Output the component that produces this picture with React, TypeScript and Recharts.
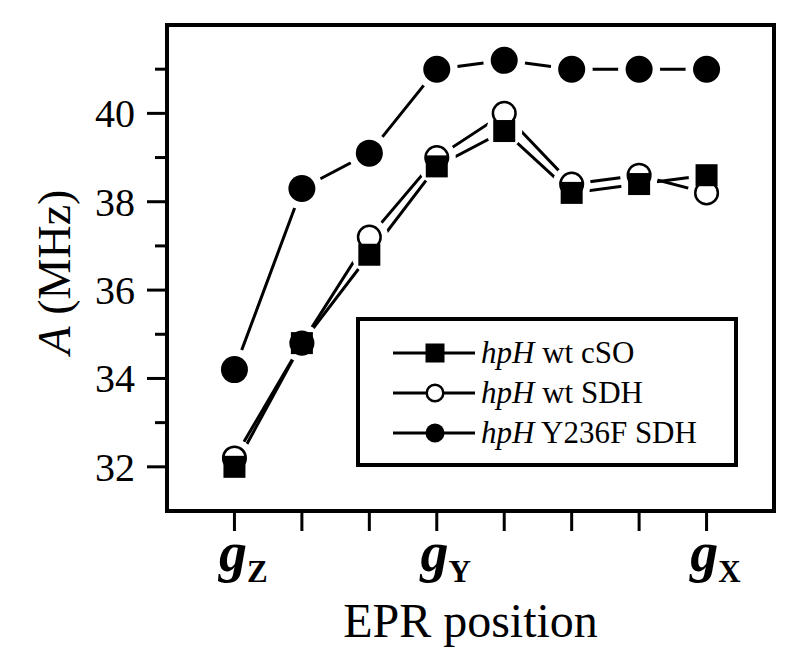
import React from 'react';
import { LineChart, Line, XAxis, YAxis, ReferenceArea, Legend } from 'recharts';

// EPR positions along the field sweep (gZ ... gX)
const positions = [1, 2, 3, 4, 5, 6, 7, 8];
const positionLabels = ['Z', '', '', 'Y', '', '', '', 'X'];

// A (MHz) per series
const wtCSO = [32.0, 34.8, 36.8, 38.8, 39.6, 38.2, 38.4, 38.6];
const wtSDH = [32.2, 34.8, 37.2, 39.0, 40.0, 38.4, 38.6, 38.2];
const y236fSDH = [34.2, 38.3, 39.1, 41.0, 41.2, 41.0, 41.0, 41.0];

const yTicks = [32, 33, 34, 35, 36, 37, 38, 39, 40, 41];
const legendNames = ['wt cSO', 'wt SDH', 'Y236F SDH'];

const FONT = '"Liberation Serif", "Times New Roman", serif';

const data = positions.map((p, i) => ({
  pos: p,
  cso: wtCSO[i],
  sdh: wtSDH[i],
  y236f: y236fSDH[i],
}));

const Marker = ({ kind, cx, cy, size }: { kind: string; cx: number; cy: number; size: number }) => {
  if (kind === 'square') {
    return <rect x={cx - size / 2} y={cy - size / 2} width={size} height={size} fill="#000" />;
  }
  if (kind === 'open') {
    return <circle cx={cx} cy={cy} r={size / 2 - 1.2} fill="#fff" stroke="#000" strokeWidth={2.5} />;
  }
  return <circle cx={cx} cy={cy} r={size / 2} fill="#000" />;
};

const makeDot = (kind: string, size: number) => (p: any) => (
  <Marker key={`${kind}-${p.index}`} kind={kind} cx={p.cx} cy={p.cy} size={size} />
);

// white gap around each point, as in the original Origin plot
const makeHalo = (name: string, r: number) => (p: any) => (
  <circle key={`halo-${name}-${p.index}`} cx={p.cx} cy={p.cy} r={r} fill="#fff" />
);

const XTick = ({ x, y, payload }: any) => {
  const sub = positionLabels[positions.indexOf(payload.value)];
  if (!sub) return <g />;
  return (
    <text x={x + 9} y={y + 38} textAnchor="middle" fontFamily={FONT} fontWeight="bold" fill="#000">
      <tspan fontSize={56} fontStyle="italic">g</tspan>
      <tspan fontSize={31} dy={11}>{sub}</tspan>
    </text>
  );
};

// y ticks: long tick + label on even values, short tick on odd values
const YTick = ({ x, y, payload }: any) => {
  const major = payload.value % 2 === 0;
  return (
    <g>
      <line x1={x - (major ? 20 : 12)} y1={y} x2={x} y2={y} stroke="#000" strokeWidth={3} />
      {major && (
        <text x={x - 32} y={y} dy={14} textAnchor="end" fontFamily={FONT} fontSize={40} fill="#000">
          {payload.value}
        </text>
      )}
    </g>
  );
};

const YLabel = ({ viewBox }: any) => {
  const x = viewBox.x - 17;
  const y = 272;
  return (
    <text x={x} y={y} transform={`rotate(-90 ${x} ${y})`} textAnchor="middle" fontFamily={FONT} fontSize={46} fill="#000">
      <tspan fontStyle="italic">A</tspan>
      <tspan> (MHz)</tspan>
    </text>
  );
};

const legendKinds = ['square', 'open', 'filled'];

const LegendBox = () => (
  <div
    style={{
      boxSizing: 'border-box',
      width: 382,
      height: 150,
      border: '4px solid #000',
      background: '#fff',
      paddingTop: 12,
      paddingLeft: 33,
      fontFamily: FONT,
      fontSize: 31,
      color: '#000',
    }}
  >
    {legendNames.map((name, i) => (
      <div key={name} style={{ display: 'flex', alignItems: 'center', height: 40, whiteSpace: 'nowrap' }}>
        <svg width={88} height={40}>
          <line x1={0} y1={20} x2={82} y2={20} stroke="#000" strokeWidth={3} />
          <Marker kind={legendKinds[i]} cx={42} cy={20} size={19} />
        </svg>
        <span style={{ fontFamily: FONT }}>
          <i>hpH</i> {name}
        </span>
      </div>
    ))}
  </div>
);

export default function App() {
  return (
    <div style={{ position: 'absolute', left: 0, top: 0, background: '#fff' }}>
      <LineChart width={800} height={672} data={data} margin={{ top: 25, right: 26, left: 87, bottom: 35 }}>
        <YAxis
          type="number"
          domain={[31, 42]}
          ticks={yTicks}
          width={80}
          axisLine={false}
          tickSize={0}
          tickMargin={0}
          tickLine={false}
          tick={<YTick />}
          label={<YLabel />}
        />
        <XAxis
          dataKey="pos"
          type="number"
          domain={[0, 9]}
          ticks={positions}
          height={126}
          axisLine={false}
          tickSize={20}
          tickLine={{ stroke: '#000', strokeWidth: 3 }}
          tick={<XTick />}
          label={{ value: 'EPR position', position: 'insideBottom', offset: 0, fontSize: 48, fontFamily: FONT, fill: '#000' }}
        />
        <ReferenceArea x1={0} x2={9} y1={31} y2={42} fill="none" stroke="#000" strokeWidth={4} ifOverflow="visible" />
        <Line dataKey="y236f" stroke="#000" strokeWidth={3} dot={makeHalo('y236f', 21)} isAnimationActive={false} />
        <Line dataKey="sdh" stroke="#000" strokeWidth={3} dot={makeHalo('sdh', 19)} isAnimationActive={false} />
        <Line dataKey="cso" stroke="#000" strokeWidth={3} dot={makeHalo('cso', 18)} isAnimationActive={false} />
        <Line dataKey="y236f" stroke="none" dot={makeDot('filled', 27)} isAnimationActive={false} />
        <Line dataKey="sdh" stroke="none" dot={makeDot('open', 25)} isAnimationActive={false} />
        <Line dataKey="cso" stroke="none" dot={makeDot('square', 22)} isAnimationActive={false} />
        <Legend
          layout="vertical"
          align="center"
          verticalAlign="middle"
          wrapperStyle={{ left: 356, top: 317, width: 382, height: 150 }}
          content={<LegendBox />}
        />
      </LineChart>
    </div>
  );
}
